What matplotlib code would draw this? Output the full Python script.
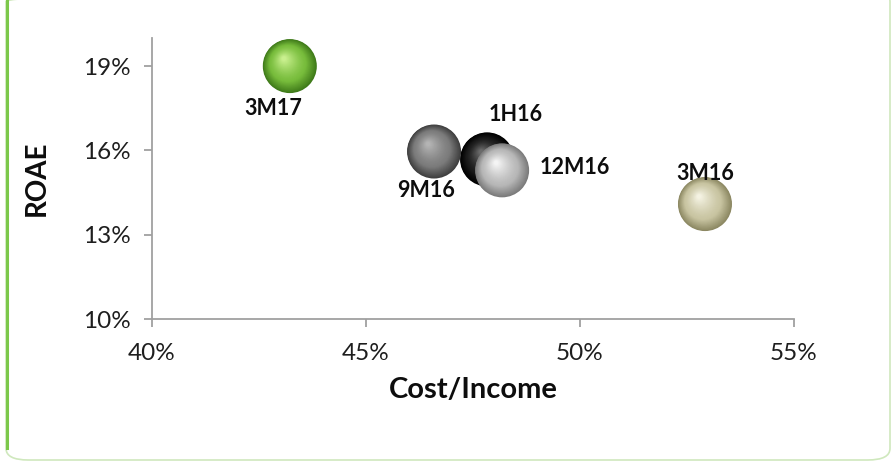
import numpy as np
import matplotlib.pyplot as plt
from matplotlib.patches import FancyBboxPatch
from matplotlib.transforms import ScaledTranslation
from matplotlib.colors import to_rgb

# ------------------------------
# DATA
# ------------------------------
labels = ["1H16", "12M16", "3M16", "9M16", "3M17"]
cost_income = [47.83, 48.18, 52.92, 46.59, 43.22]
roae = [15.68, 15.29, 14.09, 15.96, 19.0]

x_ticks = [40, 45, 50, 55]
y_ticks = [10, 13, 16, 19]

# ------------------------------
# STYLE
# ------------------------------
# (edge, base, highlight) colours of each bubble
bubble_colors = {
    "1H16": ("#000000", "#1c1c1c", "#6a6a6a"),
    "12M16": ("#7a7a7a", "#b8b8b8", "#f4f4f4"),
    "3M16": ("#8c8862", "#c9c5a2", "#f4f2e2"),
    "9M16": ("#3e3e3e", "#7c7c7c", "#b4b4b4"),
    "3M17": ("#3f7a1a", "#78bd3c", "#c9f08e"),
}
# label offsets in pixels (dx right, dy up)
label_offsets = {
    "1H16": (29, 45),
    "12M16": (73, 3),
    "3M16": (0, 31),
    "9M16": (-8, -39),
    "3M17": (-17, -42),
}

plt.rcParams['font.family'] = ['Lato', 'DejaVu Sans']

fig = plt.figure(figsize=(8.93, 4.62), dpi=100)
ax = fig.add_axes([152 / 893, 1 - 319 / 462, (794 - 152) / 893, (319 - 38) / 462])

# frame round the chart
frame = FancyBboxPatch((6 / 893, 2 / 462), 884 / 893, 470 / 462,
                       boxstyle="round,pad=0,rounding_size=0.025",
                       transform=fig.transFigure, fill=False,
                       edgecolor="#cfe8bd", linewidth=1.2, clip_on=False)
fig.patches.append(frame)
fig.add_artist(plt.Line2D([6.5 / 893, 6.5 / 893], [14 / 462, 1.0],
                          transform=fig.transFigure, color="#7cc84a", lw=2.2))


def draw_sphere(ax, x, y, edge, base, high, radius_px=27, zorder=3):
    e, b, h = np.array(to_rgb(edge)), np.array(to_rgb(base)), np.array(to_rgb(high))
    n = 40
    for k in range(n):
        f = k / (n - 1)
        r = radius_px * (1 - 0.92 * f)
        # highlight drifts toward upper left
        off_x = -0.22 * radius_px * f
        off_y = 0.28 * radius_px * f
        if f < 0.35:
            c = e + (b - e) * (f / 0.35)
        else:
            c = b + (h - b) * ((f - 0.35) / 0.65) ** 1.3
        tr = ax.transData + ScaledTranslation(off_x / 100, off_y / 100, fig.dpi_scale_trans)
        ax.scatter([x], [y], s=(2 * r * 0.72) ** 2, color=c, edgecolors="none",
                   transform=tr, zorder=zorder, clip_on=False)


for i, name in enumerate(labels):
    edge, base, high = bubble_colors[name]
    draw_sphere(ax, cost_income[i], roae[i], edge, base, high, zorder=3 + i * 0.01)

for i, name in enumerate(labels):
    dx, dy = label_offsets[name]
    ax.annotate(name, (cost_income[i], roae[i]), xytext=(dx * 0.72, dy * 0.72),
                textcoords="offset points", ha="center", va="center",
                fontsize=15.5, fontweight="bold", color="#0d0d0d", zorder=10)

ax.set_xlim(40, 55)
ax.set_ylim(10, 20)
ax.set_xticks(x_ticks)
ax.set_xticklabels([f"{v}%" for v in x_ticks])
ax.set_yticks(y_ticks)
ax.set_yticklabels([f"{v}%" for v in y_ticks])

for side in ["top", "right"]:
    ax.spines[side].set_visible(False)
for side in ["left", "bottom"]:
    ax.spines[side].set_color("#a0a0a0")
    ax.spines[side].set_linewidth(1.3)
ax.tick_params(axis="both", direction="out", length=6, width=1.3, color="#a0a0a0",
               labelsize=17.5, labelcolor="#1e1e1e")
ax.tick_params(axis="x", pad=11)
ax.tick_params(axis="y", pad=9)

ax.set_xlabel("Cost/Income", fontsize=21, fontweight="bold", labelpad=10, color="#0d0d0d")
ax.set_ylabel("ROAE", fontsize=20, fontweight="bold", labelpad=24, color="#0d0d0d")

fig.savefig("out.png", dpi=100)
